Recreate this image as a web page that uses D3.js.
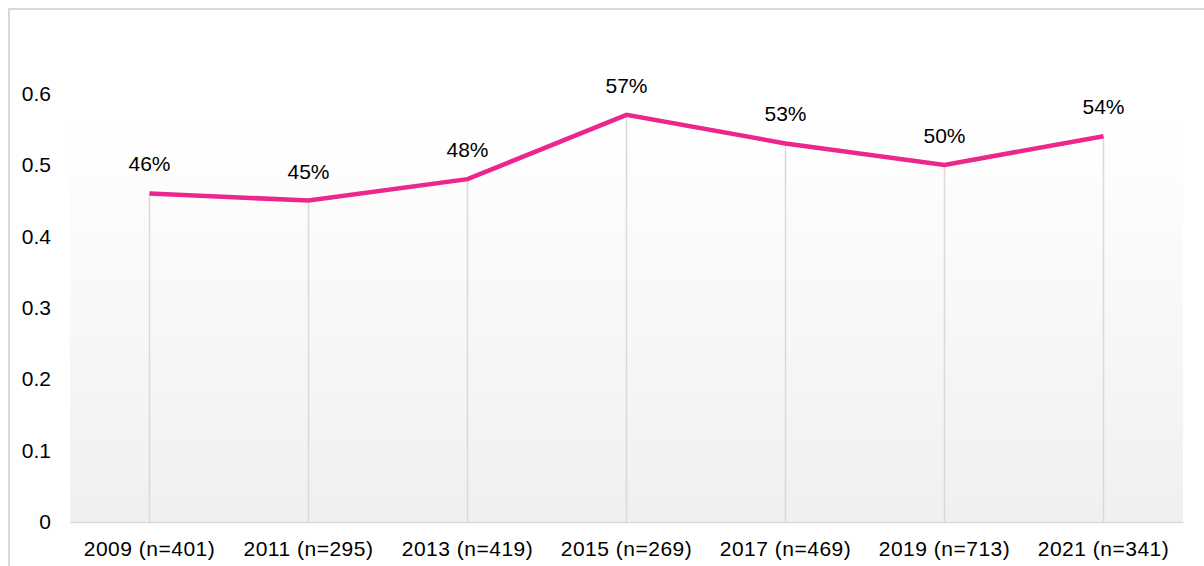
<!DOCTYPE html>
<html>
<head>
<meta charset="utf-8">
<script src="https://cdn.jsdelivr.net/npm/d3@7"></script>
<style>
  body { margin: 0; background: #fff; }
  svg { display: block; font-family: "Liberation Sans", Arial, sans-serif; }
</style>
</head>
<body>
<div id="chart"></div>
<script>
const years = ["2009 (n=401)", "2011 (n=295)", "2013 (n=419)", "2015 (n=269)", "2017 (n=469)", "2019 (n=713)", "2021 (n=341)"];
const shares = [0.46, 0.45, 0.48, 0.57, 0.53, 0.50, 0.54];
const yTicks = [0, 0.1, 0.2, 0.3, 0.4, 0.5, 0.6];

const width = 1204, height = 566;
const plot = { left: 70, right: 1183, top: 22, bottom: 522 };

const svg = d3.select("#chart").append("svg")
  .attr("width", width).attr("height", height);

const defs = svg.append("defs");
const grad = defs.append("linearGradient")
  .attr("id", "bg").attr("x1", 0).attr("y1", 0).attr("x2", 0).attr("y2", 1);
grad.append("stop").attr("offset", "0%").attr("stop-color", "#ffffff");
grad.append("stop").attr("offset", "20%").attr("stop-color", "#ffffff");
grad.append("stop").attr("offset", "100%").attr("stop-color", "#f0f0f0");

// outer frame (runs off the right and bottom edges)
svg.append("rect")
  .attr("x", 9).attr("y", 9).attr("width", 1400).attr("height", 800)
  .attr("fill", "none").attr("stroke", "#d9d9d9").attr("stroke-width", 2);

const x = d3.scaleBand().domain(years).range([plot.left, plot.right]);
const y = d3.scaleLinear().domain([0, 0.7]).range([plot.bottom, plot.top]);

svg.append("rect")
  .attr("x", plot.left).attr("y", plot.top)
  .attr("width", plot.right - plot.left).attr("height", plot.bottom - plot.top)
  .attr("fill", "url(#bg)");

const cx = d => x(d) + x.bandwidth() / 2;

// drop lines
svg.append("g").selectAll("line")
  .data(years)
  .join("line")
    .attr("x1", cx).attr("x2", cx)
    .attr("y1", (d, i) => y(shares[i])).attr("y2", y(0))
    .attr("stroke", "#d9d9d9").attr("stroke-width", 1.5);

// x axis
const xAxis = svg.append("g")
  .attr("transform", `translate(0,${y(0)})`)
  .call(d3.axisBottom(x).tickSize(0).tickPadding(19));
xAxis.select(".domain").attr("stroke", "#d9d9d9").attr("stroke-width", 1.5);
xAxis.selectAll("text").attr("font-size", 21).attr("fill", "#000")
  .attr("letter-spacing", "0.5px")
  .attr("font-family", "Liberation Sans, Arial, sans-serif");

// y axis labels
const yAxis = svg.append("g")
  .attr("transform", `translate(${plot.left},0)`)
  .call(d3.axisLeft(y).tickValues(yTicks).tickSize(0).tickPadding(19)
    .tickFormat(d => d === 0 ? "0" : d3.format(".1f")(d)));
yAxis.select(".domain").remove();
yAxis.selectAll("text").attr("font-size", 21).attr("fill", "#000")
  .attr("font-family", "Liberation Sans, Arial, sans-serif");

// line
const line = d3.line()
  .x((d, i) => cx(years[i]))
  .y(d => y(d));

svg.append("path")
  .datum(shares)
  .attr("d", line)
  .attr("fill", "none")
  .attr("stroke", "#ec268c")
  .attr("stroke-width", 4.5)
  .attr("stroke-linejoin", "miter");

// value labels
svg.append("g").selectAll("text")
  .data(shares)
  .join("text")
    .attr("x", (d, i) => cx(years[i]))
    .attr("y", d => y(d) - 22)
    .attr("text-anchor", "middle")
    .attr("font-size", 21)
    .attr("fill", "#000")
    .text(d => Math.round(d * 100) + "%");
</script>
</body>
</html>
